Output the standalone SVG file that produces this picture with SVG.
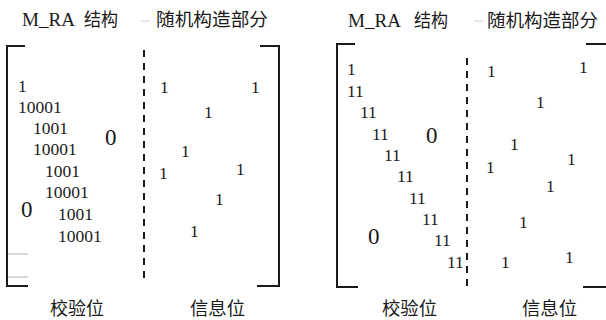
<svg xmlns="http://www.w3.org/2000/svg" width="606" height="320" viewBox="0 0 606 320">
<style>
.b{stroke:#1a1a1a;stroke-width:2;fill:none}
.d{stroke:#1a1a1a;stroke-width:2;stroke-dasharray:7 6;fill:none}
.g{stroke:#b0b0b0;stroke-width:1;fill:none}
.f{stroke:#d0d0d0;stroke-width:1;fill:none}
.n{font-family:"Liberation Serif","DejaVu Serif",serif;font-size:17.5px;fill:#1a1a1a}
.z{font-family:"Liberation Serif","DejaVu Serif",serif;font-size:23px;fill:#1a1a1a}
.h{font-family:"Liberation Serif","Noto Sans CJK SC",serif;font-size:18px;fill:#1a1a1a}
</style>
<rect width="606" height="320" fill="#fff"/>
<g id="matrix1">
<text class="h" x="22" y="26" textLength="53" lengthAdjust="spacingAndGlyphs">M_RA</text>
<text class="h" x="84" y="26" textLength="34" lengthAdjust="spacingAndGlyphs">结构</text>
<line class="f" x1="141" y1="21" x2="150" y2="21"/>
<text class="h" x="156" y="26" textLength="112" lengthAdjust="spacingAndGlyphs">随机构造部分</text>
<path class="b" d="M25 46H7V286H28"/>
<path class="b" d="M260 46H279V286H257"/>
<line class="g" x1="8" y1="254" x2="28" y2="254"/>
<line class="g" x1="8" y1="277" x2="28" y2="277"/>
<line class="d" x1="144" y1="50" x2="144" y2="280"/>
<text class="n" x="18" y="92">1</text>
<text class="n" x="18" y="113">10001</text>
<text class="n" x="33" y="134">1001</text>
<text class="n" x="33" y="155">10001</text>
<text class="n" x="45" y="177">1001</text>
<text class="n" x="45" y="198">10001</text>
<text class="n" x="58" y="220">1001</text>
<text class="n" x="58" y="242">10001</text>
<text class="z" x="105" y="145">0</text>
<text class="z" x="21" y="217">0</text>
<text class="n" x="160" y="93">1</text>
<text class="n" x="251" y="93">1</text>
<text class="n" x="204" y="118">1</text>
<text class="n" x="181" y="157">1</text>
<text class="n" x="159" y="179">1</text>
<text class="n" x="236" y="175">1</text>
<text class="n" x="215" y="205">1</text>
<text class="n" x="190" y="237">1</text>
<text class="h" x="50" y="315" textLength="54" lengthAdjust="spacingAndGlyphs">校验位</text>
<text class="h" x="190" y="315" textLength="55" lengthAdjust="spacingAndGlyphs">信息位</text>
</g>
<g id="matrix2">
<text class="h" x="348" y="27" textLength="53" lengthAdjust="spacingAndGlyphs">M_RA</text>
<text class="h" x="414" y="27" textLength="34" lengthAdjust="spacingAndGlyphs">结构</text>
<line class="f" x1="474" y1="21" x2="483" y2="21"/>
<text class="h" x="487" y="27" textLength="111" lengthAdjust="spacingAndGlyphs">随机构造部分</text>
<path class="b" d="M355 44H337V287H358"/>
<path class="b" d="M586 44H607M583 287H607"/>
<line class="d" x1="467" y1="58" x2="467" y2="288"/>
<text class="n" x="347" y="75">1</text>
<text class="n" x="347" y="97">11</text>
<text class="n" x="360" y="118">11</text>
<text class="n" x="372" y="140">11</text>
<text class="n" x="384" y="161">11</text>
<text class="n" x="397" y="182">11</text>
<text class="n" x="409" y="204">11</text>
<text class="n" x="422" y="225">11</text>
<text class="n" x="434" y="246">11</text>
<text class="n" x="447" y="268">11</text>
<text class="z" x="426" y="143">0</text>
<text class="z" x="368" y="244">0</text>
<text class="n" x="487" y="77">1</text>
<text class="n" x="579" y="73">1</text>
<text class="n" x="536" y="108">1</text>
<text class="n" x="510" y="150">1</text>
<text class="n" x="486" y="173">1</text>
<text class="n" x="567" y="165">1</text>
<text class="n" x="546" y="192">1</text>
<text class="n" x="519" y="228">1</text>
<text class="n" x="501" y="268">1</text>
<text class="n" x="565" y="263">1</text>
<text class="h" x="382" y="315" textLength="55" lengthAdjust="spacingAndGlyphs">校验位</text>
<text class="h" x="522" y="315" textLength="55" lengthAdjust="spacingAndGlyphs">信息位</text>
</g>
</svg>
